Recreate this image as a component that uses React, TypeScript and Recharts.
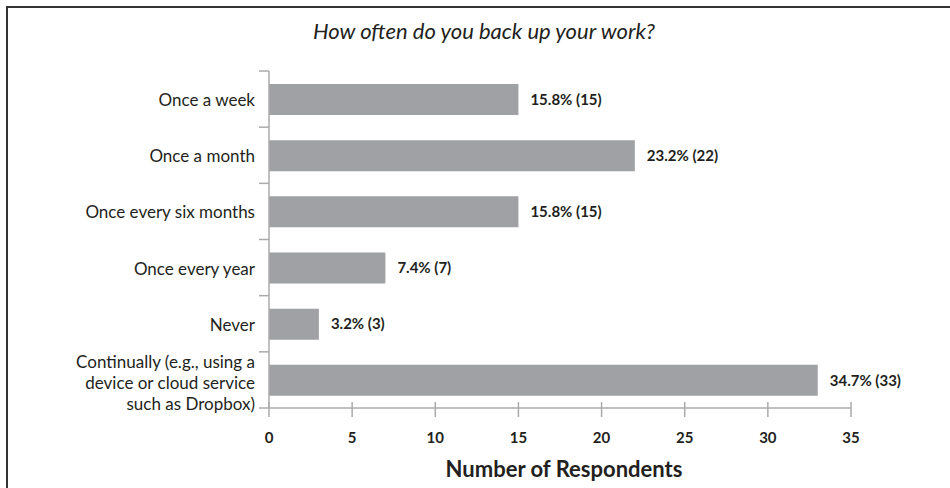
import React from 'react';
import { BarChart, Bar, XAxis, YAxis, LabelList } from 'recharts';

const categories = [
  'Once a week',
  'Once a month',
  'Once every six months',
  'Once every year',
  'Never',
  'Continually (e.g., using a\ndevice or cloud service\nsuch as Dropbox)',
];
const counts = [15, 22, 15, 7, 3, 33];
const percents = [15.8, 23.2, 15.8, 7.4, 3.2, 34.7];
const xTicks = [0, 5, 10, 15, 20, 25, 30, 35];

const chartData = categories.map((name, i) => ({
  name,
  count: counts[i],
  label: `${percents[i]}% (${counts[i]})`,
}));

const FONT = 'Lato, "Open Sans", sans-serif';
const TEXT = '#231f20';
const AXIS = '#ababab';

const CategoryTick = (props: any) => {
  const { x, y, payload, index } = props;
  const half = payload.offset || 0;
  const lines = String(payload.value).split('\n');
  const lh = 21;
  const start = -((lines.length - 1) * lh) / 2 + (lines.length > 1 ? 2 : 0);
  return (
    <g>
      <line x1={x - 10} x2={x} y1={y - half} y2={y - half} stroke={AXIS} strokeWidth={1.5} />
      {index === categories.length - 1 && (
        <line x1={x - 10} x2={x} y1={y + half} y2={y + half} stroke={AXIS} strokeWidth={1.5} />
      )}
      <text
        x={x - 14}
        y={y}
        textAnchor="end"
        fontFamily={FONT}
        fontSize={17}
        fill={TEXT}
        dominantBaseline="central"
      >
        {lines.map((line, i) => (
          <tspan key={i} x={x - 14} y={y + start + i * lh}>
            {line}
          </tspan>
        ))}
      </text>
    </g>
  );
};

const ValueTick = (props: any) => {
  const { x, y, payload } = props;
  return (
    <g>
      <line x1={x} x2={x} y1={y - 6} y2={y + 9} stroke={AXIS} strokeWidth={1.5} />
      <text
        x={x}
        y={y + 29}
        textAnchor="middle"
        dominantBaseline="central"
        fontFamily={FONT}
        fontWeight={700}
        fontSize={15}
        fill={TEXT}
      >
        {payload.value}
      </text>
    </g>
  );
};

export default function App() {
  return (
    <div style={{ position: 'absolute', left: 0, top: 0, width: 950, height: 488, background: '#fff', overflow: 'hidden' }}>
      <div
        style={{
          position: 'absolute',
          left: 6,
          top: 6,
          width: 960,
          height: 500,
          borderTop: '2px solid #333',
          borderLeft: '2px solid #333',
        }}
      />
      <div
        style={{
          position: 'absolute',
          left: 0,
          top: 17,
          width: 968,
          textAlign: 'center',
          fontFamily: FONT,
          fontStyle: 'italic',
          fontSize: 22,
          color: TEXT,
        }}
      >
        How often do you back up your work?
      </div>
      <div style={{ position: 'absolute', left: 0, top: 0 }}>
        <BarChart
          width={950}
          height={488}
          data={chartData}
          layout="vertical"
          margin={{ top: 71, right: 99, bottom: 0, left: 0 }}
        >
          <XAxis
            type="number"
            domain={[0, 35]}
            ticks={xTicks}
            height={80}
            tickSize={0}
            tickMargin={0}
            tickLine={false}
            axisLine={{ stroke: AXIS, strokeWidth: 1.5 }}
            tick={<ValueTick />}
            label={{
              value: 'Number of Respondents',
              position: 'insideBottom',
              offset: 11,
              dx: 4,
              style: { fontFamily: FONT, fontWeight: 700, fontSize: 22, fill: TEXT },
            }}
          />
          <YAxis
            type="category"
            dataKey="name"
            width={269}
            tickSize={0}
            tickMargin={0}
            tickLine={false}
            interval={0}
            axisLine={{ stroke: AXIS, strokeWidth: 1.5 }}
            tick={<CategoryTick />}
          />
          <Bar dataKey="count" fill="#a0a1a4" barSize={31} isAnimationActive={false}>
            <LabelList
              dataKey="label"
              position="right"
              offset={12}
              style={{ fontFamily: FONT, fontWeight: 700, fontSize: 15, fill: TEXT }}
            />
          </Bar>
        </BarChart>
      </div>
    </div>
  );
}
